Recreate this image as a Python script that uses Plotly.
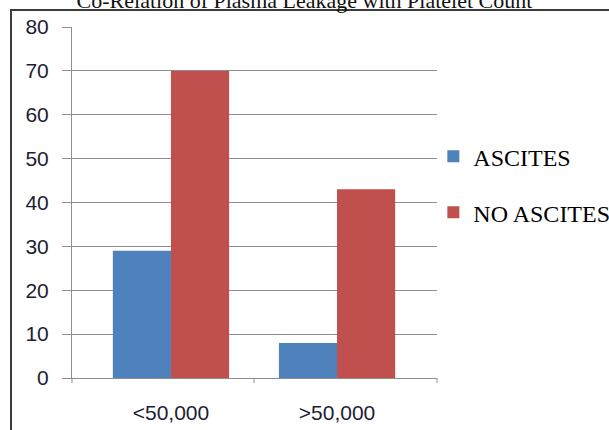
import plotly.graph_objects as go

# Platelet count groups and patient counts per ascites status
categories = ["<50,000", ">50,000"]
ascites = [29, 8]
no_ascites = [70, 43]
y_ticks = [0, 10, 20, 30, 40, 50, 60, 70, 80]

BLUE = "#4F81BD"
RED = "#C0504D"
GRID = "#8E8E8E"
SANS = "Liberation Sans, Arial, sans-serif"
SERIF = "Liberation Serif, Times New Roman, serif"

fig = go.Figure()
fig.add_trace(go.Bar(x=categories, y=ascites, name="ASCITES",
                     marker=dict(color=BLUE, line=dict(width=0)),
                     legendgroup="a"))
fig.add_trace(go.Bar(x=categories, y=no_ascites, name="NO ASCITES",
                     marker=dict(color=RED, line=dict(width=0)),
                     legendgroup="b"))

# plot area geometry (pixels) used for the frame and axis tick shapes
L, R, T, B = 72, 172, 27, 52
W, H = 609, 430
pw, ph = W - L - R, H - T - B

shapes = [
    # outer frame around the chart
    dict(type="rect", xref="paper", yref="paper",
         x0=(11 - L) / pw, x1=(W + 20 - L) / pw,
         y0=-(B + 20) / ph, y1=(H - B - 10) / ph,
         line=dict(color="#3c3c3c", width=2), fillcolor="rgba(0,0,0,0)",
         layer="below"),
    # category boundary ticks on the x axis
    dict(type="line", xref="paper", yref="paper", x0=0, x1=0,
         y0=0, y1=-5 / ph, line=dict(color=GRID, width=1)),
    dict(type="line", xref="x", yref="paper", x0=0.5, x1=0.5,
         y0=0, y1=-5 / ph, line=dict(color=GRID, width=1)),
    dict(type="line", xref="paper", yref="paper", x0=1, x1=1,
         y0=0, y1=-5 / ph, line=dict(color=GRID, width=1)),
]

fig.update_layout(
    width=W, height=H,
    margin=dict(l=L, r=R, t=T, b=B, pad=0, autoexpand=False),
    paper_bgcolor="white", plot_bgcolor="white",
    barmode="group", bargap=0.30, bargroupgap=0,
    title=dict(text="Co-Relation of Plasma Leakage with Platelet Count",
               font=dict(family=SERIF, size=22, color="#111"),
               x=0.5, xanchor="center", xref="container",
               y=1.0, yanchor="middle", yref="container"),
    xaxis=dict(type="category", categoryorder="array", categoryarray=categories,
               range=[-0.596, 1.602], showgrid=False, automargin=False,
               showline=True, linecolor=GRID, linewidth=1,
               ticks="", ticklabelstandoff=16,
               tickfont=dict(family=SANS, size=21, color="#1d1d33")),
    yaxis=dict(range=[0, 80], tickvals=y_ticks, showgrid=True, automargin=False,
               gridcolor=GRID, gridwidth=1, zeroline=False,
               showline=True, linecolor=GRID, linewidth=1,
               ticks="outside", ticklen=9, tickcolor=GRID,
               ticklabelstandoff=9,
               tickfont=dict(family=SANS, size=21, color="#1d1d33")),
    legend=dict(x=0.99, xanchor="left", y=0.695, yanchor="top",
                traceorder="grouped", tracegroupgap=22,
                font=dict(family=SERIF, size=24, color="#000"),
                bgcolor="rgba(0,0,0,0)"),
    shapes=shapes,
)

fig.write_html("out.html")
